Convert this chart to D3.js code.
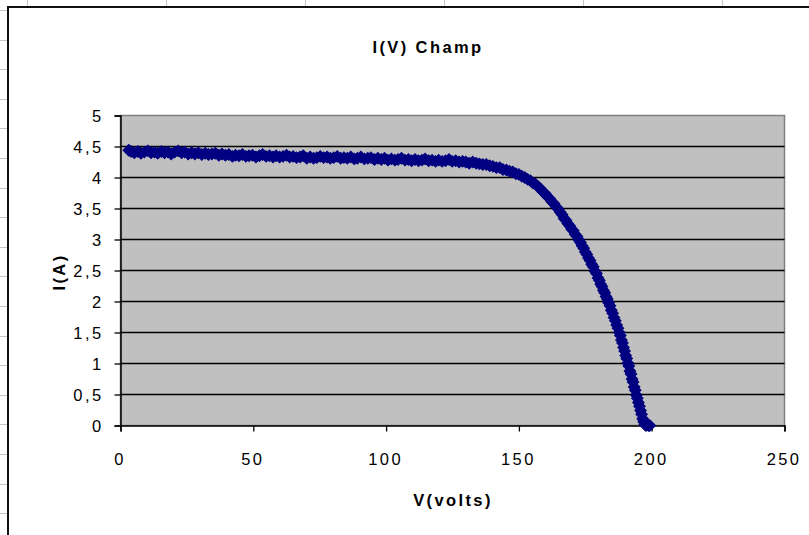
<!DOCTYPE html>
<html>
<head>
<meta charset="utf-8">
<script src="https://cdn.jsdelivr.net/npm/d3@7"></script>
<style>
html, body { margin: 0; padding: 0; background: #fff; }
svg { display: block; }
text { font-family: "Liberation Sans", Arial, sans-serif; fill: #000; }
</style>
</head>
<body>
<svg id="chart" width="809" height="535"></svg>
<script>
// ---- data ----
const title = "I(V) Champ";
const xTitle = "V(volts)";
const yTitle = "I(A)";
const xTicks = [0, 50, 100, 150, 200, 250];
const yTicks = [0, 0.5, 1, 1.5, 2, 2.5, 3, 3.5, 4, 4.5, 5];

const voltage = [
  3.1, 4.0, 5.2, 6.5, 7.7, 9.0, 10.3, 11.5, 12.8, 14.0, 15.4, 16.6, 17.9, 19.1, 20.4, 21.7, 23.0, 24.2, 25.5, 26.8,
  28.0, 29.3, 30.6, 31.9, 33.1, 34.4, 35.7, 37.0, 38.2, 39.5, 40.8, 42.1, 43.3, 44.6, 45.9, 47.2, 48.4, 49.7, 51.0, 52.3,
  53.5, 54.8, 56.1, 57.4, 58.6, 59.9, 61.2, 62.5, 63.7, 65.0, 66.3, 67.6, 68.8, 70.1, 71.4, 72.7, 73.9, 75.2, 76.5, 77.8,
  79.0, 80.3, 81.6, 82.9, 84.1, 85.4, 86.7, 88.0, 89.2, 90.5, 91.8, 93.1, 94.3, 95.6, 96.9, 98.2, 99.4, 100.7, 102.0, 103.3,
  104.5, 105.8, 107.1, 108.4, 109.6, 110.9, 112.2, 113.5, 114.7, 116.0, 117.3, 118.6, 119.8, 121.1, 122.4, 123.7, 124.9, 126.2, 127.5, 128.8,
  130.0, 131.3, 132.6, 133.9, 135.1, 136.4, 137.7, 139.0, 140.2, 141.5, 142.8, 144.0, 145.3, 146.5, 147.7, 148.9, 150.0, 151.1, 152.2, 153.3,
  154.3, 155.3, 156.3, 157.2, 158.1, 159.0, 159.9, 160.8, 161.6, 162.4, 163.2, 164.0, 164.8, 165.6, 166.3, 167.0, 167.7, 168.4, 169.1, 169.8,
  170.5, 171.2, 171.9, 172.6, 173.2, 173.8, 174.4, 175.0, 175.6, 176.2, 176.8, 177.4, 178.0, 178.6, 179.2, 179.8, 180.3, 180.8, 181.3, 181.8,
  182.3, 182.8, 183.3, 183.8, 184.3, 184.8, 185.3, 185.8, 186.3, 186.8, 187.3, 187.8, 188.2, 188.6, 189.0, 189.4, 189.8, 190.2, 190.6, 191.0,
  191.4, 191.8, 192.2, 192.6, 193.0, 193.4, 193.8, 194.2, 194.6, 195.0, 195.4, 195.8, 196.2, 196.6, 197.0, 197.4, 197.8, 198.3, 198.8, 199.3
];
const current = [
  4.44, 4.42, 4.40, 4.42, 4.39, 4.41, 4.43, 4.40, 4.41, 4.39, 4.42, 4.40, 4.41, 4.38, 4.41, 4.43, 4.40, 4.41, 4.38, 4.40,
  4.38, 4.40, 4.37, 4.39, 4.37, 4.38, 4.39, 4.36, 4.38, 4.36, 4.37, 4.34, 4.36, 4.35, 4.37, 4.34, 4.35, 4.36, 4.33, 4.35,
  4.37, 4.34, 4.35, 4.33, 4.35, 4.33, 4.34, 4.36, 4.33, 4.34, 4.32, 4.33, 4.35, 4.31, 4.33, 4.31, 4.32, 4.34, 4.32, 4.33,
  4.31, 4.32, 4.34, 4.31, 4.32, 4.31, 4.33, 4.30, 4.31, 4.33, 4.30, 4.31, 4.32, 4.29, 4.31, 4.29, 4.31, 4.28, 4.30, 4.28,
  4.29, 4.31, 4.28, 4.29, 4.27, 4.29, 4.27, 4.28, 4.30, 4.27, 4.28, 4.26, 4.28, 4.26, 4.27, 4.29, 4.26, 4.27, 4.25, 4.26,
  4.25, 4.23, 4.25, 4.23, 4.22, 4.21, 4.21, 4.19, 4.18, 4.16, 4.16, 4.13, 4.12, 4.10, 4.09, 4.06, 4.05, 4.02, 4.00, 3.97,
  3.95, 3.91, 3.89, 3.85, 3.82, 3.77, 3.74, 3.69, 3.66, 3.61, 3.58, 3.53, 3.49, 3.44, 3.40, 3.34, 3.31, 3.26, 3.22, 3.17,
  3.14, 3.08, 3.05, 2.99, 2.95, 2.90, 2.86, 2.80, 2.76, 2.70, 2.66, 2.60, 2.56, 2.49, 2.45, 2.38, 2.34, 2.28, 2.24, 2.18,
  2.14, 2.08, 2.04, 1.98, 1.93, 1.86, 1.81, 1.74, 1.69, 1.62, 1.57, 1.50, 1.45, 1.38, 1.33, 1.26, 1.20, 1.13, 1.08, 1.01,
  0.96, 0.88, 0.83, 0.75, 0.70, 0.62, 0.57, 0.49, 0.44, 0.37, 0.31, 0.24, 0.18, 0.11, 0.06, 0.02, 0.00, 0.01, 0.00, 0.00
];

// ---- drawing ----
const svg = d3.select("#chart");
const W = 809, H = 535;
const plot = { left: 120.5, right: 784.5, top: 115.5, bottom: 425.5 };

// spreadsheet grid behind the chart object
const sheet = svg.append("g").attr("stroke", "#c6c6c6").attr("stroke-width", 1);
[27.5, 166.5, 305.5, 444.5, 583.5, 722.5].forEach(x =>
  sheet.append("line").attr("x1", x).attr("x2", x).attr("y1", 0).attr("y2", 7));
d3.range(0, 18).forEach(i => {
  const y = Math.round(10 + i * 29.6) + 0.5;
  sheet.append("line").attr("x1", 0).attr("x2", 7).attr("y1", y).attr("y2", y);
});

// chart object frame
svg.append("rect").attr("x", 8).attr("y", 7).attr("width", W + 20).attr("height", H + 20)
  .attr("fill", "#fff").attr("stroke", "#111").attr("stroke-width", 2);

const x = d3.scaleLinear().domain([0, 250]).range([plot.left, plot.right]);
const y = d3.scaleLinear().domain([0, 5]).range([plot.bottom, plot.top]);

// plot area
svg.append("rect").attr("x", plot.left).attr("y", plot.top)
  .attr("width", plot.right - plot.left).attr("height", plot.bottom - plot.top)
  .attr("fill", "#c0c0c0").attr("stroke", "#808080").attr("stroke-width", 1.5);

// horizontal gridlines
svg.append("g").selectAll("line").data(yTicks.filter(d => d > 0 && d < 5)).join("line")
  .attr("x1", plot.left).attr("x2", plot.right)
  .attr("y1", d => y(d)).attr("y2", d => y(d))
  .attr("stroke", "#000").attr("stroke-width", 1.3);

// axes
const yAxis = d3.axisLeft(y).tickValues(yTicks).tickSize(6).tickPadding(10)
  .tickFormat(d => d3.format("")(d).replace(".", ","));
const gy = svg.append("g").attr("transform", `translate(${plot.left},0)`).call(yAxis);
gy.select(".domain").attr("stroke", "#000").attr("stroke-width", 1.5);
gy.selectAll(".tick line").attr("stroke", "#000").attr("stroke-width", 1.3);
gy.selectAll(".tick text").attr("font-size", 16.5).attr("letter-spacing", "2.4px")
  .attr("font-family", "Liberation Sans, Arial, sans-serif").attr("x", -17).attr("dy", "0.36em");

const xAxis = d3.axisBottom(x).tickValues(xTicks).tickSize(6).tickPadding(22).tickFormat(d3.format(""));
const gx = svg.append("g").attr("transform", `translate(0,${plot.bottom})`).call(xAxis);
gx.select(".domain").attr("stroke", "#000").attr("stroke-width", 1.5);
gx.selectAll(".tick line").attr("stroke", "#000").attr("stroke-width", 1.3);
gx.selectAll(".tick text").attr("font-size", 16.5).attr("letter-spacing", "2.4px")
  .attr("font-family", "Liberation Sans, Arial, sans-serif").attr("dx", "-1px");

// data markers (Excel-style diamonds: a square rotated by 45 degrees)
const pts = voltage.map((v, i) => [v, current[i]]);
const diamond = d3.symbol().type(d3.symbolSquare).size(66);
svg.append("g").selectAll("path").data(pts).join("path")
  .attr("transform", d => `translate(${x(d[0])},${y(d[1])}) rotate(45)`)
  .attr("d", diamond)
  .attr("fill", "#000080").attr("stroke", "#000080").attr("stroke-width", 1);

// titles
svg.append("text").attr("x", 428).attr("y", 53).attr("text-anchor", "middle")
  .attr("font-size", 16.5).attr("font-weight", "bold").attr("letter-spacing", "2.4px").text(title);
svg.append("text").attr("x", 453).attr("y", 506).attr("text-anchor", "middle")
  .attr("font-size", 16.5).attr("font-weight", "bold").attr("letter-spacing", "2.4px").text(xTitle);
svg.append("text").attr("transform", "translate(65,272) rotate(-90)").attr("text-anchor", "middle")
  .attr("font-size", 16.5).attr("font-weight", "bold").attr("letter-spacing", "2.4px").text(yTitle);
</script>
</body>
</html>
